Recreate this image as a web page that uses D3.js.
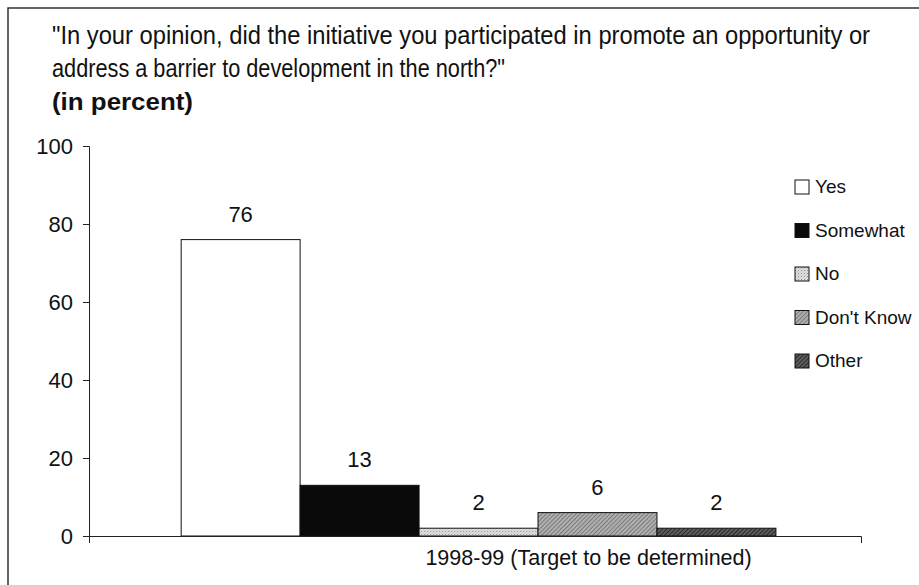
<!DOCTYPE html>
<html>
<head>
<meta charset="utf-8">
<script src="https://cdn.jsdelivr.net/npm/d3@7"></script>
<style>
  body { margin: 0; background: #fff; }
  text { font-family: "Liberation Sans", Arial, sans-serif; fill: #111; }
</style>
</head>
<body>
<svg width="919" height="585"></svg>
<script>
var svg = d3.select("svg"),
    width = +svg.attr("width"),
    height = +svg.attr("height");

// data
var categories = ["1998-99 (Target to be determined)"];
var seriesNames = ["Yes", "Somewhat", "No", "Don't Know", "Other"];
var seriesValues = [76, 13, 2, 6, 2];
var yTicks = [0, 20, 40, 60, 80, 100];
var titleLines = [
    "\"In your opinion, did the initiative you participated in promote an opportunity or",
    "address a barrier to development in the north?\"",
    "(in percent)"
];

var fills = ["#ffffff", "#0a0a0a", "url(#patNo)", "url(#patDk)", "url(#patOther)"];

// patterns for the grey bars
var defs = svg.append("defs");

var pNo = defs.append("pattern").attr("id", "patNo")
    .attr("patternUnits", "userSpaceOnUse").attr("width", 3).attr("height", 3);
pNo.append("rect").attr("width", 3).attr("height", 3).attr("fill", "#e2e2e2");
pNo.append("rect").attr("width", 1).attr("height", 1).attr("fill", "#8a8a8a");
pNo.append("rect").attr("x", 1.5).attr("y", 1.5).attr("width", 1).attr("height", 1).attr("fill", "#a5a5a5");

var pDk = defs.append("pattern").attr("id", "patDk")
    .attr("patternUnits", "userSpaceOnUse").attr("width", 3).attr("height", 3)
    .attr("patternTransform", "rotate(45)");
pDk.append("rect").attr("width", 3).attr("height", 3).attr("fill", "#b0b0b0");
pDk.append("rect").attr("width", 1).attr("height", 3).attr("fill", "#7a7a7a");

var pOther = defs.append("pattern").attr("id", "patOther")
    .attr("patternUnits", "userSpaceOnUse").attr("width", 3).attr("height", 3)
    .attr("patternTransform", "rotate(45)");
pOther.append("rect").attr("width", 3).attr("height", 3).attr("fill", "#5e5e5e");
pOther.append("rect").attr("width", 1).attr("height", 3).attr("fill", "#2a2a2a");

// frame (scanned box: left and top edges visible)
svg.append("path")
    .attr("d", "M8," + height + "V8H" + width)
    .attr("fill", "none").attr("stroke", "#333").attr("stroke-width", 1.5);

// title, condensed like the original narrow face
var titleWidths = [818, 453, 141];
svg.selectAll(".title").data(titleLines).enter().append("text")
    .attr("class", "title")
    .attr("x", 52)
    .attr("y", function (d, i) { return [44, 77, 110][i]; })
    .attr("textLength", function (d, i) { return titleWidths[i]; })
    .attr("lengthAdjust", "spacingAndGlyphs")
    .style("font-size", function (d, i) { return i < 2 ? "25px" : "24px"; })
    .style("font-weight", function (d, i) { return i === 2 ? "bold" : "normal"; })
    .text(function (d) { return d; });

// scales
var plotLeft = 89, plotRight = 861, plotTop = 146, plotBottom = 536;

var y = d3.scaleLinear().domain([0, 100]).range([plotBottom, plotTop]);
var x0 = d3.scaleBand().domain(categories).range([plotLeft, plotRight])
    .paddingInner(0).paddingOuter(0.149).align(0.52);
var x1 = d3.scaleBand().domain(seriesNames).range([0, x0.bandwidth()]);

// bars
var group = svg.selectAll(".group").data(categories).enter().append("g")
    .attr("class", "group")
    .attr("transform", function (d) { return "translate(" + x0(d) + ",0)"; });

group.selectAll("rect").data(seriesNames).enter().append("rect")
    .attr("x", function (d) { return x1(d); })
    .attr("y", function (d, i) { return y(seriesValues[i]); })
    .attr("width", x1.bandwidth())
    .attr("height", function (d, i) { return y(0) - y(seriesValues[i]); })
    .attr("fill", function (d, i) { return fills[i]; })
    .attr("stroke", "#111").attr("stroke-width", 1);

group.selectAll(".val").data(seriesNames).enter().append("text")
    .attr("class", "val")
    .attr("x", function (d) { return x1(d) + x1.bandwidth() / 2; })
    .attr("y", function (d, i) { return y(seriesValues[i]) - 18; })
    .attr("text-anchor", "middle")
    .style("font-size", "22px")
    .text(function (d, i) { return seriesValues[i]; });

// axes
var yAxis = svg.append("g")
    .attr("transform", "translate(" + plotLeft + ",0)")
    .call(d3.axisLeft(y).tickValues(yTicks).tickSize(6).tickSizeOuter(6).tickPadding(10));

var xAxis = svg.append("g")
    .attr("transform", "translate(0," + plotBottom + ")")
    .call(d3.axisBottom(x0).tickSizeInner(0).tickSizeOuter(7).tickPadding(14));

svg.selectAll(".domain, .tick line").attr("stroke", "#222");
yAxis.selectAll("text").style("font-size", "22px").style("font-family", "'Liberation Sans', Arial, sans-serif").attr("fill", "#111");
xAxis.selectAll("text").style("font-size", "21.5px").style("font-family", "'Liberation Sans', Arial, sans-serif")
    .attr("fill", "#111").attr("dx", 110);

// legend
var legend = svg.selectAll(".legend").data(seriesNames).enter().append("g")
    .attr("class", "legend")
    .attr("transform", function (d, i) { return "translate(795," + (180 + i * 43.5) + ")"; });

legend.append("rect")
    .attr("width", 14).attr("height", 14)
    .attr("fill", function (d, i) { return fills[i]; })
    .attr("stroke", "#111").attr("stroke-width", 1);

legend.append("text")
    .attr("x", 20).attr("y", 13)
    .style("font-size", "19px")
    .text(function (d) { return d; });
</script>
</body>
</html>
